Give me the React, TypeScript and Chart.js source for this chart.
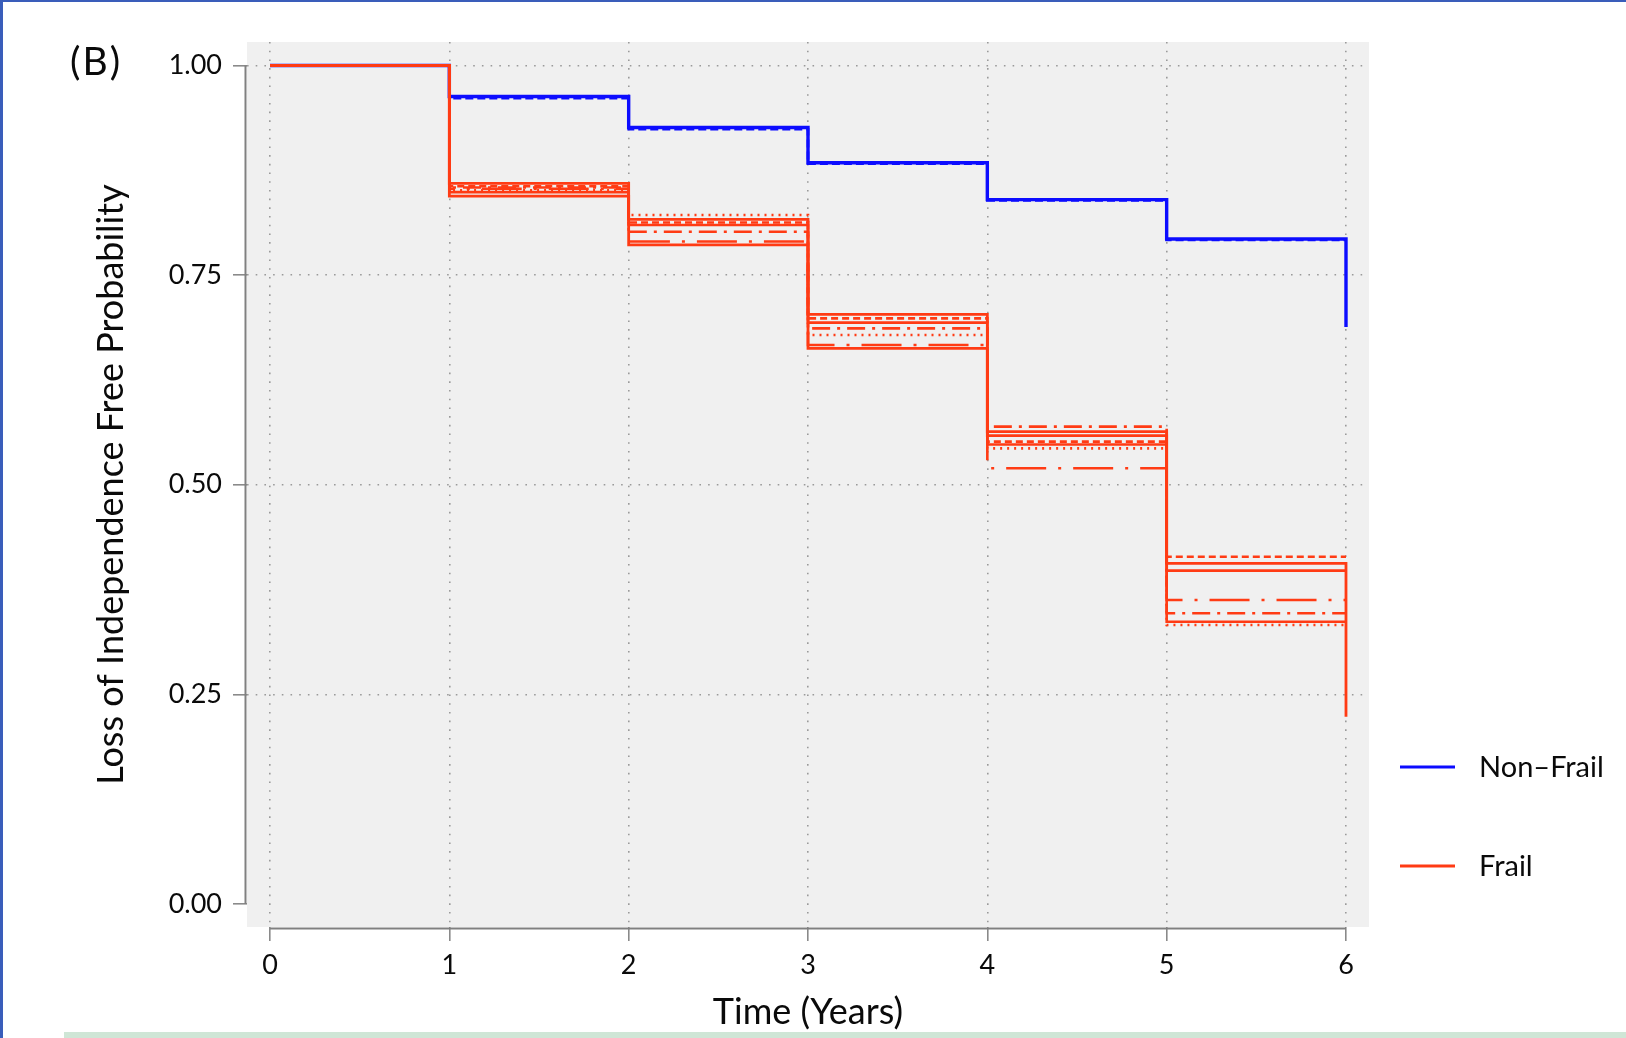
import React, { useEffect, useRef } from "react";
import { Chart, registerables } from "chart.js";

Chart.register(...registerables);

// ---------- data ----------
const times = [0, 1, 2, 3, 4, 5, 6];
const xTickValues = [0, 1, 2, 3, 4, 5, 6];
const yTickValues = [0, 0.25, 0.5, 0.75, 1];

const nonFrail = [1, 0.963, 0.926, 0.884, 0.84, 0.793, 0.688];
const nonFrailAlt = [1, 0.961, 0.924, 0.883, 0.839, 0.792, 0.792];

const frailA = [1, 0.8595, 0.8165, 0.7033, 0.5633, 0.4063, 0.2234];
const frailB = [1, 0.8443, 0.786, 0.6627, 0.5585, 0.3975, 0.3975];
const frailC = [1, 0.849, 0.8097, 0.6933, 0.548, 0.3367, 0.3367];
const frailD = [1, 0.856, 0.8128, 0.6984, 0.5514, 0.4142, 0.4142];
const frailE = [1, 0.851, 0.8217, 0.6786, 0.5434, 0.3327, 0.3327];
const frailF = [1, 0.853, 0.79, 0.6667, 0.5196, 0.3626, 0.3626];
const frailG = [1, 0.8545, 0.8018, 0.6865, 0.5693, 0.3467, 0.3467];

const legendLabels = ["Non\u2013Frail", "Frail"];
const panelLabel = "(B)";
const xTitle = "Time (Years)";
const yTitle = "Loss of Independence Free Probability";

// ---------- styles ----------
const BLUE = "#0c0cff";
const RED = "#ff3b14";
const FONT = "Lato";
const X_MIN = -0.1283;
const X_MAX = 6.1283;
const Y_MIN = -0.0274;
const Y_MAX = 1.028;

const frailSeries = [
  { data: frailA, dash: [] as number[], width: 2.8 },
  { data: frailB, dash: [] as number[], width: 2.8 },
  { data: frailC, dash: [] as number[], width: 2.6 },
  { data: frailD, dash: [7, 4], width: 2.6 },
  { data: frailE, dash: [2, 5], width: 2.6 },
  { data: frailF, dash: [40, 12, 3, 12], width: 2.6 },
  { data: frailG, dash: [18, 7, 3, 7], width: 2.6 },
];

const toPts = (arr: number[]) => times.map((t, i) => ({ x: t, y: arr[i] }));

const decorPlugin = {
  id: "decor",
  beforeDraw(chart: any) {
    const { ctx, chartArea: a, width, height } = chart;
    ctx.save();
    ctx.fillStyle = "#ffffff";
    ctx.fillRect(0, 0, width, height);
    ctx.fillStyle = "#f0f0f0";
    ctx.fillRect(a.left, a.top, a.right - a.left, a.bottom - a.top);
    ctx.restore();
  },
  afterDraw(chart: any) {
    const { ctx, chartArea: a, scales, width, height } = chart;
    const xs = scales.x;
    const ys = scales.y;
    ctx.save();
    // range-frame axis lines
    ctx.strokeStyle = "#808080";
    ctx.lineWidth = 2;
    ctx.beginPath();
    ctx.moveTo(a.left - 1.5, ys.getPixelForValue(1));
    ctx.lineTo(a.left - 1.5, ys.getPixelForValue(0));
    ctx.stroke();
    ctx.beginPath();
    ctx.moveTo(xs.getPixelForValue(0), a.bottom + 1.5);
    ctx.lineTo(xs.getPixelForValue(6), a.bottom + 1.5);
    ctx.stroke();

    // legend
    const items = [
      { label: legendLabels[0], color: BLUE, y: 767 },
      { label: legendLabels[1], color: RED, y: 866 },
    ];
    ctx.font = `29px ${FONT}`;
    ctx.textBaseline = "middle";
    ctx.textAlign = "left";
    items.forEach((it) => {
      ctx.strokeStyle = it.color;
      ctx.lineWidth = 3;
      ctx.beginPath();
      ctx.moveTo(1400, it.y);
      ctx.lineTo(1455, it.y);
      ctx.stroke();
      ctx.fillStyle = "#0a0a0a";
      ctx.fillText(it.label, 1479, it.y + 1);
    });

    // panel label
    ctx.font = `39px ${FONT}`;
    (ctx as any).letterSpacing = "2px";
    ctx.fillStyle = "#0a0a0a";
    ctx.fillText(panelLabel, 70, 62);
    (ctx as any).letterSpacing = "0px";

    // page frame decorations
    ctx.fillStyle = "#3a5dba";
    ctx.fillRect(0, 0, 3, height);
    ctx.fillRect(0, 0, width, 2);
    ctx.fillStyle = "#cfe6d6";
    ctx.fillRect(64, 1032, width - 64, height - 1032);
    ctx.restore();
  },
};

export default function App() {
  const canvasRef = useRef<HTMLCanvasElement | null>(null);

  useEffect(() => {
    const canvas = canvasRef.current;
    if (!canvas) return;

    const datasets: any[] = frailSeries.map((s, i) => ({
      label: i === 0 ? legendLabels[1] : `${legendLabels[1]} ${i + 1}`,
      data: toPts(s.data),
      borderColor: RED,
      borderWidth: s.width,
      borderDash: s.dash,
      stepped: "before",
      pointRadius: 0,
      fill: false,
    }));
    datasets.push({
      label: legendLabels[0],
      data: toPts(nonFrail),
      borderColor: BLUE,
      borderWidth: 3.4,
      stepped: "before",
      pointRadius: 0,
      fill: false,
    });
    datasets.push({
      label: `${legendLabels[0]} 2`,
      data: toPts(nonFrailAlt),
      borderColor: BLUE,
      borderWidth: 2.6,
      borderDash: [8, 4],
      stepped: "before",
      pointRadius: 0,
      fill: false,
    });

    const gridCommon = {
      lineWidth: 1.6,
      borderDash: [1.6, 7.1],
      tickLength: 14,
      tickColor: "#8a8a8a",
      tickWidth: 1.6,
      tickBorderDash: [],
      drawTicks: true,
    };

    const chart = new Chart(canvas, {
      type: "line",
      data: { datasets },
      plugins: [decorPlugin],
      options: {
        responsive: false,
        animation: false,
        devicePixelRatio: 1,
        layout: { padding: { top: 42, right: 257, left: 0, bottom: 0 } },
        plugins: {
          legend: { display: false },
          tooltip: { enabled: false },
          title: { display: false },
        },
        scales: {
          x: {
            type: "linear",
            min: X_MIN,
            max: X_MAX,
            afterBuildTicks: (s: any) => {
              s.ticks = xTickValues.map((v) => ({ value: v }));
            },
            afterFit: (s: any) => {
              s.height = 111;
            },
            ticks: {
              autoSkip: false,
              maxRotation: 0,
              padding: 8,
              color: "#0a0a0a",
              font: { family: FONT, size: 27 },
              callback: (v: any) => String(v),
            },
            grid: { ...gridCommon, color: "#9a9a9a" },
            border: { display: false, dash: [1.6, 7.1] },
            title: {
              display: true,
              text: xTitle,
              color: "#0a0a0a",
              font: { family: FONT, size: 36 },
              padding: { top: 0, bottom: 4 },
            },
          },
          y: {
            type: "linear",
            min: Y_MIN,
            max: Y_MAX,
            afterBuildTicks: (s: any) => {
              s.ticks = yTickValues.map((v) => ({ value: v }));
            },
            afterFit: (s: any) => {
              s.width = 247;
            },
            ticks: {
              padding: 11,
              color: "#0a0a0a",
              font: { family: FONT, size: 27 },
              callback: (v: any) => Number(v).toFixed(2),
            },
            grid: {
              ...gridCommon,
              color: (c: any) =>
                c.tick && c.tick.value === 0 ? "rgba(0,0,0,0)" : "#9a9a9a",
            },
            border: { display: false, dash: [1.6, 7.1] },
            title: {
              display: true,
              text: yTitle,
              color: "#0a0a0a",
              font: { family: FONT, size: 36 },
              padding: { top: 90, bottom: 0 },
            },
          },
        },
      } as any,
    });

    return () => {
      chart.destroy();
    };
  }, []);

  return (
    <div style={{ position: "absolute", left: 0, top: 0, width: 1626, height: 1038 }}>
      <canvas ref={canvasRef} width={1626} height={1038} style={{ width: 1626, height: 1038, display: "block" }} />
    </div>
  );
}
